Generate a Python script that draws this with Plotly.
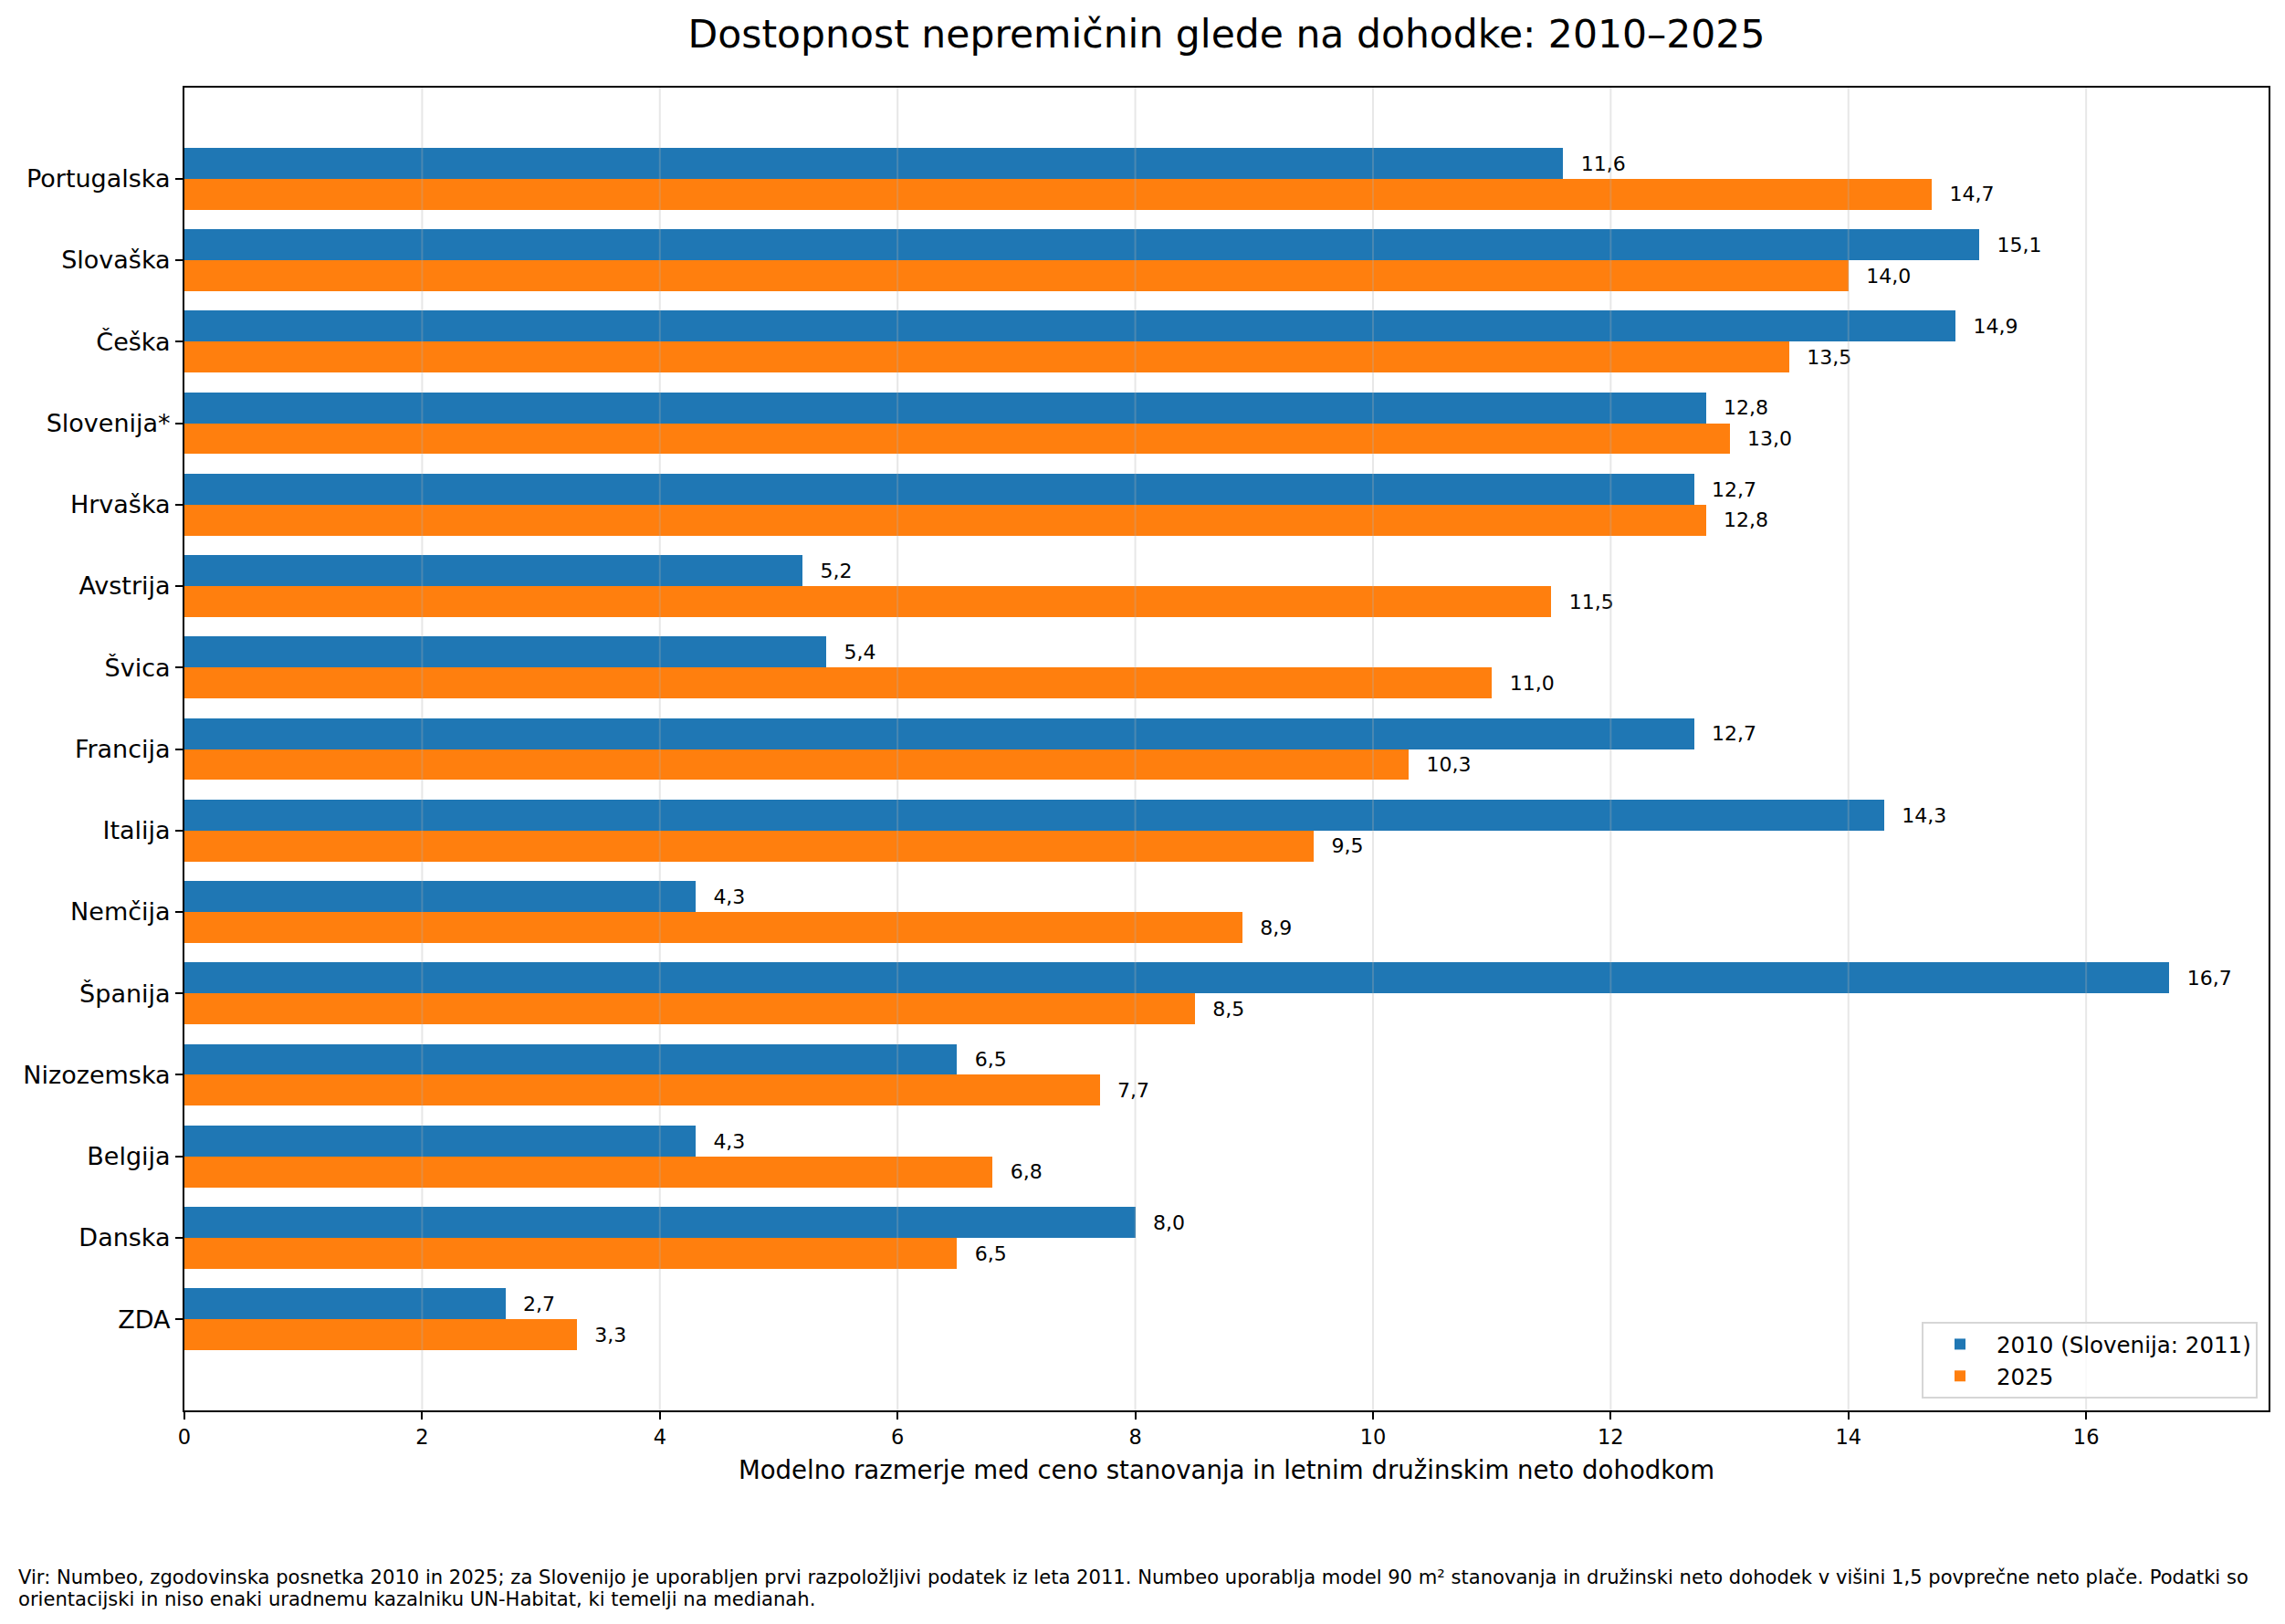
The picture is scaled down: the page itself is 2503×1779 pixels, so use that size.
"""Dostopnost nepremičnin glede na dohodke: 2010–2025 (horizontal grouped bars)."""

import numpy as np
import plotly.graph_objects as go

countries = [
    "Portugalska", "Slovaška", "Češka", "Slovenija*", "Hrvaška", "Avstrija",
    "Švica", "Francija", "Italija", "Nemčija", "Španija", "Nizozemska",
    "Belgija", "Danska", "ZDA",
]
vals_2010 = [11.6, 15.1, 14.9, 12.8, 12.7, 5.2, 5.4, 12.7, 14.3, 4.3, 16.7, 6.5, 4.3, 8.0, 2.7]
vals_2025 = [14.7, 14.0, 13.5, 13.0, 12.8, 11.5, 11.0, 10.3, 9.5, 8.9, 8.5, 7.7, 6.8, 6.5, 3.3]
series_names = ["2010 (Slovenija: 2011)", "2025"]
x_ticks = [0, 2, 4, 6, 8, 10, 12, 14, 16]

title = "Dostopnost nepremičnin glede na dohodke: 2010–2025"
x_title = "Modelno razmerje med ceno stanovanja in letnim družinskim neto dohodkom"
footnote_lines = [
    "Vir: Numbeo, zgodovinska posnetka 2010 in 2025; za Slovenijo je uporabljen prvi razpoložljivi "
    "podatek iz leta 2011. Numbeo uporablja model 90 m² stanovanja in družinski neto dohodek v višini "
    "1,5 povprečne neto plače. Podatki so",
    "orientacijski in niso enaki uradnemu kazalniku UN-Habitat, ki temelji na medianah.",
]

# page is offset by the default 8px body margin, so the figure is drawn 8px smaller
FW, FH = 2495, 1771
L, R, T, B = 194, 18, 88, 234
FONT = "DejaVu Sans"
colors = ["#1f77b4", "#ff7f0e"]
grid_color = "rgba(176,176,176,0.3)"
bar_h = 0.38

idx = np.arange(len(countries))
fig = go.Figure()
for k, (vals, name, col) in enumerate(zip([vals_2010, vals_2025], series_names, colors)):
    ypos = idx + (k - 0.5) * bar_h
    fig.add_trace(go.Bar(
        x=vals, y=ypos, orientation="h", width=bar_h, name=name,
        marker=dict(color=col, line=dict(width=0)),
    ))
    # value labels, nudged a touch down so they sit on the bar centre
    fig.add_trace(go.Scatter(
        x=np.array(vals) + 0.15, y=ypos + 0.025, mode="text",
        text=[f"{v:.1f}".replace(".", ",") for v in vals],
        textposition="middle right", textfont=dict(family=FONT, size=22, color="black"),
        showlegend=False, hoverinfo="skip", cliponaxis=False,
    ))

# matplotlib-style grid: drawn on top of the bars, semi-transparent
for t in x_ticks[1:]:
    fig.add_shape(type="line", xref="x", yref="paper", x0=t, x1=t, y0=0, y1=1,
                  line=dict(color=grid_color, width=2), layer="above")

xmax = max(vals_2010 + vals_2025) * 1.05
ypad = (len(countries) - 1 + 2 * bar_h) * 0.05 + bar_h
plot_w = FW - L - R
plot_h = FH - T - B

fig.update_layout(
    width=FW, height=FH, margin=dict(l=L, r=R, t=T, b=B, autoexpand=False),
    paper_bgcolor="white", plot_bgcolor="white",
    font=dict(family=FONT, size=22, color="black"),
    bargap=0,
    title=dict(text=title, x=0.5, xref="paper", y=1 - 29 / FH, yanchor="middle",
               font=dict(family=FONT, size=42.5, color="black")),
    legend=dict(x=(FW - R - 12 - L) / plot_w, y=13 / plot_h, xanchor="right", yanchor="bottom",
                bgcolor="rgba(255,255,255,0.8)", bordercolor="#d6d6d6", borderwidth=2,
                font=dict(family=FONT, size=24.5), traceorder="normal", itemwidth=70),
    showlegend=True,
)
fig.update_xaxes(
    range=[0, xmax], tickvals=x_ticks, showgrid=False,
    showline=True, linecolor="black", linewidth=2, mirror=True,
    ticks="outside", ticklen=8, tickwidth=2, tickcolor="black", zeroline=False,
    tickfont=dict(size=22.5),
    title=dict(text=x_title, font=dict(size=27.6), standoff=15),
)
fig.update_yaxes(
    range=[len(countries) - 1 + ypad, -ypad], tickvals=idx, ticktext=countries,
    showgrid=False, showline=True, linecolor="black", linewidth=2, mirror=True,
    ticks="outside", ticklen=8, tickwidth=2, tickcolor="black", zeroline=False,
    tickfont=dict(size=27),
)
for line, ymid in zip(footnote_lines, [1719, 1743]):
    fig.add_annotation(
        text=line, xref="paper", yref="paper", x=(10 - L) / plot_w,
        y=-(ymid - (FH - B)) / plot_h,
        xanchor="left", yanchor="middle", align="left", showarrow=False,
        font=dict(family=FONT, size=21.1, color="black"),
    )

fig.write_html("out.html", config={"displayModeBar": False})
